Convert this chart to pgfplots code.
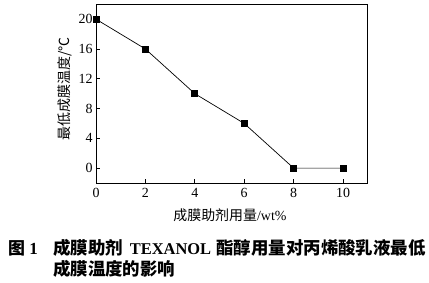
\documentclass[border=0pt]{standalone}
\usepackage{fontspec}
\setmainfont{Liberation Serif}
\newfontfamily\cjk{Noto Sans CJK SC}
\usepackage{pgfplots}
\pgfplotsset{compat=1.18}
\begin{document}
\begin{tikzpicture}
\path[use as bounding box] (-96bp,-100bp) rectangle (333bp,183bp);
\begin{axis}[
  at={(0,0)}, anchor=south west,
  scale only axis, width=271.7bp, height=178.7bp,
  xmin=0, xmax=11, ymin=-2, ymax=22,
  xtick={0,2,...,10}, ytick={0,4,...,20},
  tick align=inside, xtick pos=bottom, ytick pos=left,
  major tick length=4bp,
  axis line style={line width=0.9bp},
  every tick/.style={black, line width=0.8bp},
  ticklabel style={font=\fontsize{14}{14}\selectfont},
  xticklabel style={yshift=-2bp},
  /pgf/number format/assume math mode=true,
  xlabel={{\cjk 成膜助剂用量}/wt\%},
  ylabel={{\cjk 最低成膜温度/℃}},
  xlabel style={font=\fontsize{14}{14}\selectfont, at={(axis description cs:0.493,-0.179)}, anchor=center},
  ylabel style={font=\fontsize{14}{14}\selectfont, at={(axis description cs:-0.114,0.526)}, anchor=center, rotate=0},
]
\addplot[black, line width=0.7bp, mark=square*, mark size=3bp, mark options={solid, fill=black}]
  coordinates {(0,20) (2,16) (4,10) (6,6) (8,0) (10,0)};
\end{axis}
\node[anchor=base west, inner sep=0pt, font=\fontsize{17}{17}\selectfont\bfseries] at (-88bp,-71bp) {{\cjk 图} 1};
\node[anchor=base west, inner sep=0pt, font=\fontsize{17.5}{17.5}\selectfont\bfseries] at (-43bp,-71bp) {{\cjk 成膜助剂}\hspace{0.4em}{\fontsize{16.5}{16.5}\selectfont TEXANOL}\hspace{0.3em}{\cjk 酯醇用量对丙烯酸乳液最低}};
\node[anchor=base west, inner sep=0pt, font=\fontsize{17.5}{17.5}\selectfont\bfseries] at (-43bp,-92bp) {{\cjk 成膜温度的影响}};
\end{tikzpicture}
\end{document}
